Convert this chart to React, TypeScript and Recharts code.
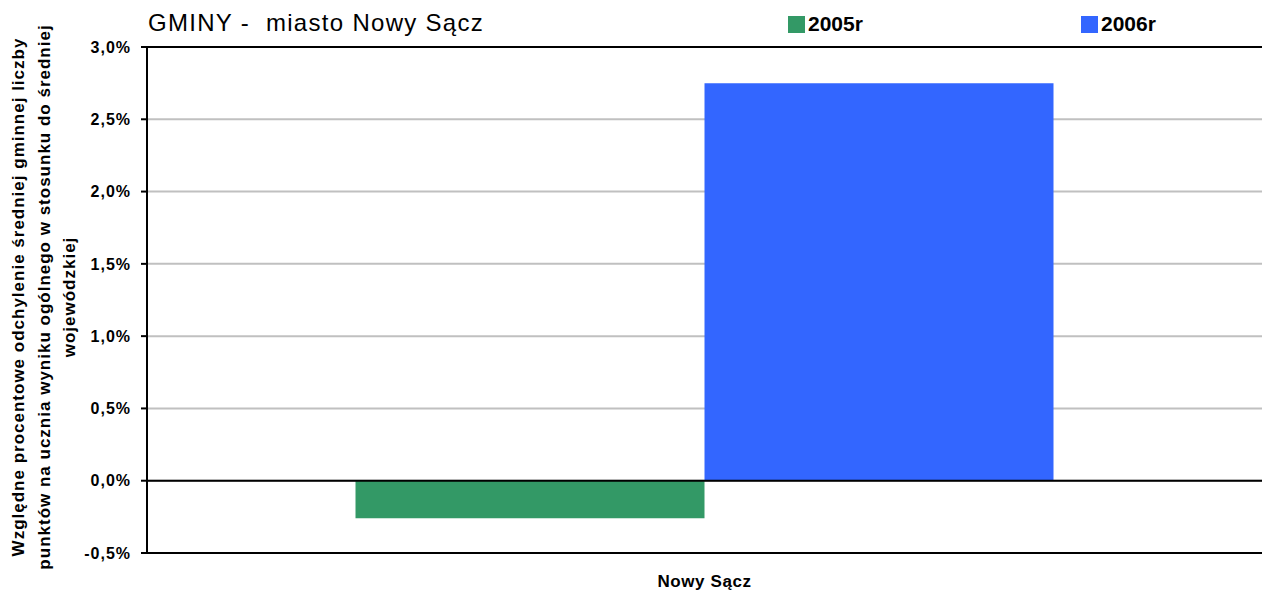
import { BarChart, Bar, XAxis, YAxis, CartesianGrid, ReferenceLine, Legend, Label } from "recharts";

const categories = ["Nowy Sącz"];
const values2005 = [-0.26];
const values2006 = [2.75];
const yTicks = [-0.5, 0, 0.5, 1, 1.5, 2, 2.5, 3];

const title = "GMINY -  miasto Nowy Sącz";
const yLabelLines = [
  "Względne procentowe odchylenie średniej gminnej liczby",
  "punktów na ucznia wyniku ogólnego w stosunku do średniej",
  "wojewódzkiej",
];

const data = categories.map((name, i) => ({
  name,
  y2005: values2005[i],
  y2006: values2006[i],
}));

const FONT = "'Liberation Sans', Arial, sans-serif";
const GREEN = "#339966";
const BLUE = "#3366FF";

function fmt(v: number) {
  return `${v.toFixed(1).replace(".", ",")}%`;
}

function TopLegend() {
  return (
    <div style={{ position: "relative", width: 1263, height: 50, fontFamily: FONT }}>
      <div style={{ position: "absolute", left: 148, top: 9, fontSize: 24, letterSpacing: 1.3, whiteSpace: "pre", color: "#000" }}>
        {title}
      </div>
      {[
        { label: "2005r", color: GREEN, x: 788 },
        { label: "2006r", color: BLUE, x: 1081 },
      ].map((it) => (
        <div key={it.label} style={{ position: "absolute", left: it.x, top: 13, display: "flex", alignItems: "center" }}>
          <span style={{ display: "inline-block", width: 17, height: 17, background: it.color, marginRight: 3 }} />
          <span style={{ fontSize: 21, fontWeight: "bold", color: "#000", lineHeight: "22px" }}>{it.label}</span>
        </div>
      ))}
    </div>
  );
}

function YLabel() {
  const xs = [24, 50, 75];
  return (
    <g>
      {yLabelLines.map((line, i) => (
        <text
          key={i}
          x={xs[i]}
          y={297}
          transform={`rotate(-90, ${xs[i]}, 297)`}
          textAnchor="middle"
          fontFamily={FONT}
          fontWeight="bold"
          fontSize={17}
          letterSpacing={1}
          fill="#000"
        >
          {line}
        </text>
      ))}
    </g>
  );
}

function XTick(props: any) {
  const { x, y, payload } = props;
  return (
    <text x={x} y={y + 26} textAnchor="middle" fontFamily={FONT} fontWeight="bold" fontSize={17} letterSpacing={0.6} fill="#000">
      {payload.value}
    </text>
  );
}

export default function App() {
  return (
    <div style={{ position: "absolute", left: 0, top: 0, width: 1263, height: 595, background: "#fff" }}>
      <BarChart
        width={1263}
        height={595}
        data={data}
        margin={{ top: 47, right: 1, bottom: 0, left: 0 }}
        barGap={0}
        barCategoryGap="18.7%"
      >
        <CartesianGrid horizontal vertical={false} stroke="#c0c0c0" strokeWidth={2} />
        <XAxis
          dataKey="name"
          height={42}
          tickLine={false}
          axisLine={{ stroke: "#000", strokeWidth: 2 }}
          tick={<XTick />}
        />
        <YAxis
          width={147}
          domain={[-0.5, 3]}
          ticks={yTicks}
          interval={0}
          tickFormatter={fmt}
          tickSize={6}
          tickMargin={10}
          tickLine={{ stroke: "#000", strokeWidth: 2 }}
          axisLine={{ stroke: "#000", strokeWidth: 2 }}
          tick={{ fontFamily: FONT, fontWeight: "bold", fontSize: 16, fill: "#000", letterSpacing: 1 }}
        >
          <Label content={() => <YLabel />} />
        </YAxis>
        <YAxis yAxisId="right" orientation="right" width={0} tick={false} tickLine={false} axisLine={{ stroke: "#808080", strokeWidth: 1 }} />
        <Legend
          layout="horizontal"
          align="center"
          verticalAlign="middle"
          wrapperStyle={{ top: 0, left: 0, width: 1263 }}
          content={() => <TopLegend />}
        />
        <Bar dataKey="y2005" name="2005r" fill={GREEN} isAnimationActive={false} />
        <Bar dataKey="y2006" name="2006r" fill={BLUE} isAnimationActive={false} />
        <ReferenceLine y={0} stroke="#000" strokeWidth={2} />
        <ReferenceLine y={3} stroke="#000" strokeWidth={2} />
      </BarChart>
    </div>
  );
}
